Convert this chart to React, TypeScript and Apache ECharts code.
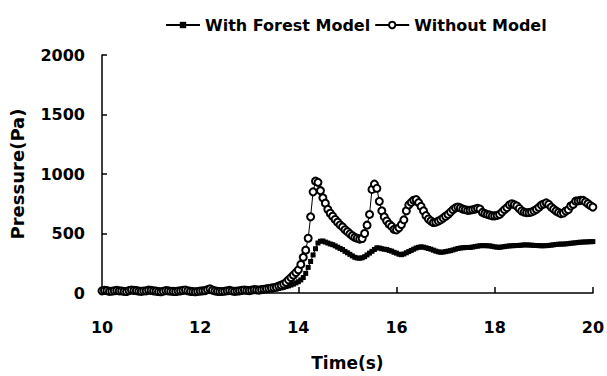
import React, { useEffect, useRef } from "react";
import * as echarts from "echarts";

// Sampling grid of the measurement (seconds)
const tStart = 10;
const tStep = 0.05;

const withForestModel = [
  12, 14, 15, 11, 10, 12, 14, 13, 12, 9,
  8, 12, 16, 15, 14, 11, 10, 11, 12, 15,
  15, 12, 10, 9, 8, 10, 14, 12, 10, 9,
  9, 10, 12, 14, 16, 13, 10, 9, 8, 9,
  11, 12, 14, 18, 22, 16, 12, 10, 9, 10,
  11, 13, 15, 12, 10, 11, 13, 15, 18, 16,
  15, 17, 20, 19, 18, 20, 22, 23, 25, 27,
  30, 34, 38, 43, 48, 54, 60, 67, 75, 85,
  95, 110, 130, 165, 215, 265, 320, 372, 420, 435,
  437, 428, 420, 412, 406, 396, 385, 375, 365, 350,
  338, 325, 312, 300, 294, 292, 296, 305, 320, 335,
  350, 366, 380, 378, 372, 368, 365, 358, 352, 342,
  335, 326, 322, 328, 338, 348, 358, 368, 378, 384,
  388, 385, 380, 374, 368, 360, 352, 346, 342, 344,
  348, 352, 356, 362, 368, 374, 378, 380, 382, 383,
  383, 386, 390, 394, 397, 398, 398, 397, 396, 392,
  388, 385, 384, 387, 390, 393, 396, 397, 398, 399,
  400, 402, 404, 404, 403, 402, 400, 399, 398, 397,
  397, 398, 400, 402, 405, 408, 410, 411, 411, 413,
  415, 418, 420, 422, 425, 427, 428, 429, 430, 431,
  432,
];

const withoutModel = [
  18, 22, 20, 14, 15, 19, 22, 18, 17, 13,
  12, 20, 25, 22, 20, 16, 14, 17, 18, 24,
  22, 18, 16, 12, 10, 15, 20, 18, 15, 14,
  12, 16, 18, 22, 25, 19, 14, 12, 10, 13,
  16, 18, 20, 28, 35, 24, 18, 14, 12, 13,
  15, 19, 22, 17, 14, 16, 18, 22, 25, 22,
  20, 24, 28, 26, 24, 28, 32, 35, 38, 42,
  45, 50, 58, 66, 75, 90, 110, 130, 150, 172,
  195, 240, 300, 360, 460, 640, 850, 940, 930, 860,
  800, 755, 703, 670, 645, 618, 595, 572, 555, 532,
  515, 497, 481, 468, 460, 453, 458, 500, 570, 660,
  870, 915, 880, 770, 690, 640, 605, 578, 560, 535,
  530, 548, 575, 615, 690, 740, 762, 780, 785, 760,
  728, 690, 650, 622, 605, 592, 595, 604, 615, 630,
  645, 660, 680, 700, 715, 722, 715, 705, 700, 694,
  696, 700, 705, 711, 705, 678, 668, 660, 655, 648,
  648, 652, 660, 680, 700, 717, 740, 750, 742, 731,
  710, 689, 680, 675, 676, 681, 690, 703, 720, 739,
  748, 758, 745, 722, 705, 689, 678, 667, 672, 689,
  700, 731, 745, 772, 774, 778, 778, 765, 750, 735,
  722,
];

const seriesNames = ["With Forest Model", "Without Model"];
const xTitle = "Time(s)";
const yTitle = "Pressure(Pa)";

const FONT = "'DejaVu Sans', sans-serif";

export default function App() {
  const ref = useRef<HTMLDivElement>(null);

  useEffect(() => {
    if (!ref.current) return;
    const chart = echarts.init(ref.current, undefined, { renderer: "svg" });
    const textBase = {
      color: "#000",
      fontFamily: FONT,
      fontWeight: "bold" as const,
      fontSize: 16,
    };
    const toPoints = (vals: number[]) =>
      vals.map((v, i) => [Math.round((tStart + i * tStep) * 100) / 100, v]);
    chart.setOption({
      animation: false,
      backgroundColor: "#fff",
      textStyle: { fontFamily: FONT },
      legend: {
        left: 160,
        top: 12,
        itemWidth: 34,
        itemHeight: 8,
        itemGap: 4,
        textStyle: { ...textBase },
        data: seriesNames,
      },
      grid: { left: 100, right: 14, top: 55, bottom: 80, containLabel: false },
      xAxis: {
        type: "value",
        min: 10,
        max: 20,
        interval: 2,
        name: xTitle,
        nameLocation: "middle",
        nameGap: 61,
        nameTextStyle: { ...textBase, fontSize: 17 },
        axisLine: { show: true, lineStyle: { color: "#000", width: 1.5 } },
        axisTick: { show: true, inside: true, length: 6, lineStyle: { color: "#000", width: 1.5 } },
        axisLabel: { ...textBase, margin: 26 },
        splitLine: { show: false },
      },
      yAxis: {
        type: "value",
        min: 0,
        max: 2000,
        interval: 500,
        name: yTitle,
        nameLocation: "middle",
        nameGap: 76,
        nameTextStyle: { ...textBase, fontSize: 18 },
        axisLine: { show: true, lineStyle: { color: "#000", width: 1.5 } },
        axisTick: { show: true, inside: true, length: 5, lineStyle: { color: "#000", width: 1.5 } },
        axisLabel: { ...textBase, margin: 17, formatter: (v: number) => String(v) },
        splitLine: { show: false },
      },
      series: [
        {
          name: seriesNames[0],
          type: "line",
          data: toPoints(withForestModel),
          symbol: "rect",
          symbolSize: 5,
          showSymbol: true,
          lineStyle: { color: "#000", width: 1 },
          itemStyle: { color: "#000" },
        },
        {
          name: seriesNames[1],
          type: "line",
          data: toPoints(withoutModel),
          symbol: "emptyCircle",
          symbolSize: 7,
          showSymbol: true,
          lineStyle: { color: "#000", width: 1 },
          itemStyle: { color: "#000", borderColor: "#000", borderWidth: 1 },
        },
      ],
    });
    return () => chart.dispose();
  }, []);

  return (
    <div
      ref={ref}
      style={{ position: "fixed", left: 0, top: 0, width: 607, height: 376, background: "#fff" }}
    />
  );
}
